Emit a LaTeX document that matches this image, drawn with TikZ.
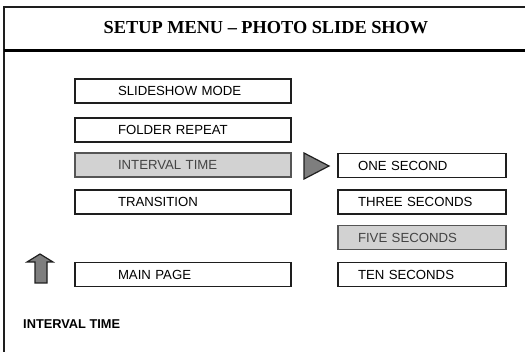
\documentclass[tikz,border=0pt]{standalone}
\usepackage{fontspec}
\setmainfont{Liberation Sans}
\newfontfamily\titlefont{Liberation Serif}
\definecolor{edge}{HTML}{1E1E1E}
\definecolor{hiedge}{HTML}{555555}
\definecolor{hifill}{HTML}{D2D2D2}
\definecolor{hitext}{HTML}{444444}
\definecolor{arrowfill}{HTML}{7E7E7E}
\begin{document}
\begin{tikzpicture}[x=1pt,y=-1pt,
  frame/.style={draw=edge, line width=2pt},
  menubox/.style={draw=edge, line width=1.5pt, minimum height=24pt, inner xsep=0pt, inner ysep=0pt,
     align=left, font=\fontsize{13.2}{14}\selectfont, text=black},
  lbox/.style={menubox, text width=216pt, execute at begin node=\hspace*{43pt}},
  rbox/.style={menubox, text width=168pt, execute at begin node=\hspace*{20pt}},
  hilite/.style={draw=hiedge, fill=hifill, text=hitext},
  marker/.style={draw=edge, line width=1.2pt, fill=arrowfill, line join=miter}]
\useasboundingbox (0,0) rectangle (525,352);
% frame
\coordinate (tl) at (4,7);
\coordinate (tr) at (526,7);
\coordinate (bl) at (4,353);
\coordinate (sl) at (4,50.5);
\coordinate (sr) at (526,50.5);
\draw[frame] (tr) -- (tl) -- (bl);
\draw[draw=black, line width=2.5pt] (sl) -- (sr);
\node[font=\titlefont\bfseries\fontsize{18.3}{20}\selectfont] (title) at (266,28) {SETUP MENU – PHOTO SLIDE SHOW};
% left column
\node[lbox] (sm) at (183,91) {SLIDESHOW MODE};
\node[lbox] (fr) at (183,130) {FOLDER REPEAT};
\node[lbox,hilite] (it) at (183,165) {INTERVAL TIME};
\node[lbox] (tr2) at (183,202) {TRANSITION};
\node[lbox] (mp) at (183,274.5) {MAIN PAGE};
% right column
\node[rbox] (one) at (422,165.5) {ONE SECOND};
\node[rbox] (three) at (422,202) {THREE SECONDS};
\node[rbox,hilite] (five) at (422,237.5) {FIVE SECONDS};
\node[rbox] (ten) at (422,274.5) {TEN SECONDS};
% markers
\draw[marker] (304,153) -- (329,166) -- (304,179) -- cycle;
\draw[marker] (27,262) -- (40,254) -- (53,262) -- (47,262) -- (47,283) -- (35,283) -- (35,262) -- cycle;
% status label
\node[anchor=west, inner sep=0pt, font=\bfseries\fontsize{12.8}{14}\selectfont] (status) at (23,324.5) {INTERVAL TIME};
\end{tikzpicture}
\end{document}
